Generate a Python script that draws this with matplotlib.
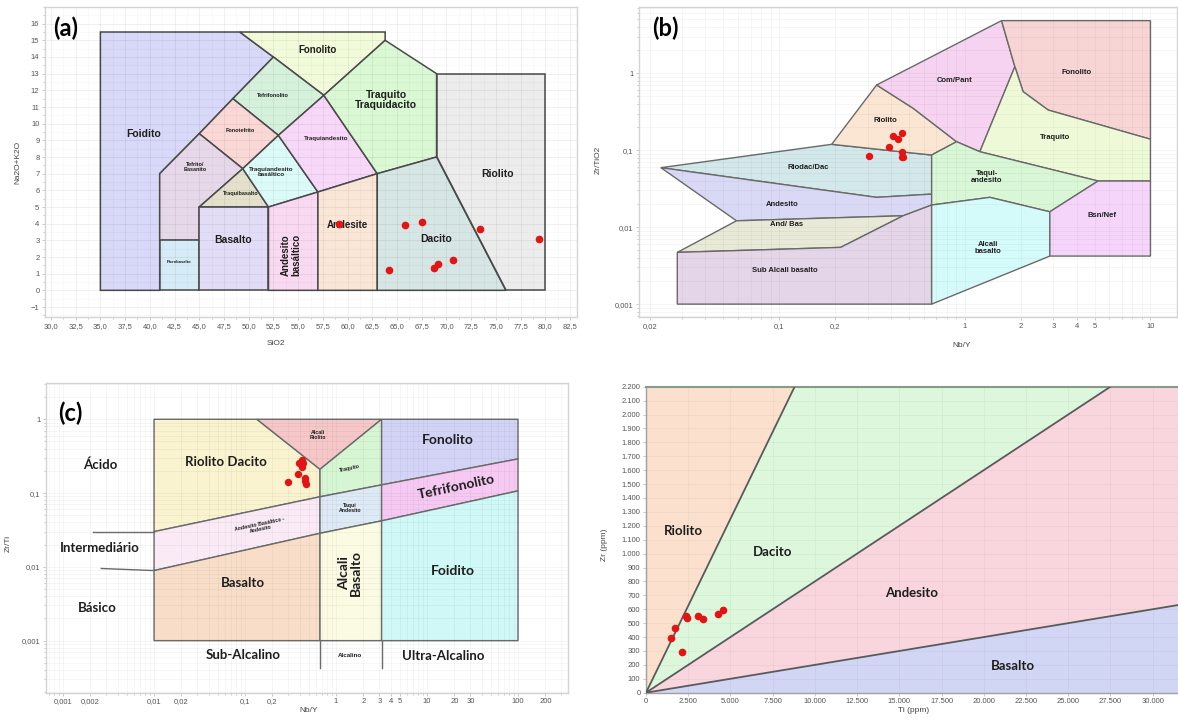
import numpy as np
import matplotlib.pyplot as plt
from matplotlib.patches import Polygon
from matplotlib.ticker import FixedLocator, FuncFormatter, LogLocator, NullFormatter, MultipleLocator

plt.rcParams['font.family'] = ['Liberation Sans', 'DejaVu Sans']

# ---------------- (a) TAS: SiO2 x Na2O+K2O ----------------
tas_regions = {
    'Foidito': [(35, 0), (35, 15.5), (49.1, 15.5), (52.5, 14), (48.4, 11.5), (45, 9.4), (41, 7), (41, 0)],
    'Fonolito': [(49.1, 15.5), (63.8, 15.5), (63.8, 15), (57.6, 11.7), (52.5, 14)],
    'Tefrifonolito': [(52.5, 14), (57.6, 11.7), (53, 9.3), (48.4, 11.5)],
    'Fonotefrito': [(48.4, 11.5), (53, 9.3), (49.4, 7.3), (45, 9.4)],
    'Tefrito': [(41, 3), (41, 7), (45, 9.4), (49.4, 7.3), (45, 5), (45, 3)],
    'Picrobasalto': [(41, 0), (41, 3), (45, 3), (45, 0)],
    'Traquibasalto': [(45, 5), (49.4, 7.3), (52, 5)],
    'TraqBas': [(49.4, 7.3), (53, 9.3), (57, 5.9), (52, 5)],
    'Traquiandesito': [(53, 9.3), (57.6, 11.7), (63, 7), (57, 5.9)],
    'Traquito': [(57.6, 11.7), (63.8, 15), (69, 13), (69, 8), (63, 7)],
    'Basalto': [(45, 0), (45, 5), (52, 5), (52, 0)],
    'AndBas': [(52, 0), (52, 5), (57, 5.9), (57, 0)],
    'Andesite': [(57, 0), (57, 5.9), (63, 7), (63, 0)],
    'Dacito': [(63, 0), (63, 7), (69, 8), (76, 0)],
    'Riolito': [(69, 8), (69, 13), (80, 13), (80, 0), (76, 0)],
}
tas_colors = {
    'Foidito': '#d8d8f8', 'Fonolito': '#f1fad9', 'Tefrifonolito': '#d5f1dc',
    'Fonotefrito': '#f9d8d6', 'Tefrito': '#e6d8e8', 'Picrobasalto': '#d6ebf8',
    'Traquibasalto': '#e3e1cc', 'TraqBas': '#dbfaf8', 'Traquiandesito': '#f8d8f8',
    'Traquito': '#d9f8d3', 'Basalto': '#e3dcf6', 'AndBas': '#f9d9f1',
    'Andesite': '#fae6d6', 'Dacito': '#d6e6e5', 'Riolito': '#ececec',
}
tas_labels = [
    ('Foidito', 39.4, 9.4, 7.5, 0), ('Fonolito', 57.0, 14.4, 7, 0),
    ('Tefrifonolito', 52.4, 11.7, 4, 0), ('Fonotefrito', 49.1, 9.6, 4, 0),
    ('Tefrito/\nBasanito', 44.6, 7.4, 4, 0), ('Picrobasalto', 43.0, 1.7, 3, 0),
    ('Traquibasalto', 49.2, 5.8, 4, 0), ('Traquiandesito\nbasáltico', 52.3, 7.1, 4.5, 0),
    ('Traquiandesito', 57.8, 9.1, 4.5, 0), ('Traquito\nTraquidacito', 63.9, 11.4, 7.5, 0),
    ('Riolito', 75.2, 7.0, 7.5, 0), ('Dacito', 69.0, 3.1, 7.5, 0),
    ('Andesite', 60.0, 3.9, 7, 0), ('Basalto', 48.4, 3.0, 7.5, 0),
    ('Andesito\nbasáltico', 54.3, 2.1, 7, 90),
]
tas_sio2 = [59.1, 65.8, 67.5, 73.4, 79.4, 64.2, 68.7, 69.1, 70.7]
tas_alk = [4.0, 3.9, 4.1, 3.7, 3.06, 1.2, 1.34, 1.6, 1.84]

# ---------------- (b) Zr/TiO2 x Nb/Y (Winchester & Floyd) ----------------
wf_regions = {
    'Riodac': [(0.0230, 0.0593), (0.1915, 0.1193), (0.662, 0.0866), (0.662, 0.0269), (0.3346, 0.0244)],
    'Andesito': [(0.0230, 0.0593), (0.3346, 0.0244), (0.662, 0.0269), (0.662, 0.0194),
                 (0.465, 0.01407), (0.0588, 0.0121)],
    'AndBas': [(0.0588, 0.0121), (0.465, 0.01407), (0.214, 0.00546), (0.0282, 0.0047)],
    'SubAlc': [(0.0282, 0.0047), (0.214, 0.00546), (0.465, 0.01407), (0.662, 0.0194),
               (0.662, 0.001), (0.0282, 0.001)],
    'Riolito': [(0.1915, 0.1193), (0.3346, 0.7045), (0.5267, 0.3506), (0.902, 0.129), (0.662, 0.0866)],
    'ComPant': [(0.3346, 0.7045), (1.576, 4.83), (1.859, 1.218), (1.204, 0.0956),
                (0.902, 0.129), (0.5267, 0.3506)],
    'Fonolito': [(1.576, 4.83), (10, 4.83), (10, 0.139), (2.81, 0.333), (2.06, 0.576), (1.859, 1.218)],
    'Traquito': [(1.859, 1.218), (2.06, 0.576), (2.81, 0.333), (10, 0.139), (10, 0.0398),
                 (5.22, 0.0398), (1.204, 0.0956)],
    'Taqui': [(0.662, 0.0866), (0.902, 0.129), (1.204, 0.0956), (5.22, 0.0398), (2.87, 0.01585),
              (1.363, 0.0244), (0.662, 0.0194)],
    'AlcBas': [(0.662, 0.0194), (1.363, 0.0244), (2.87, 0.01585), (2.87, 0.00421), (0.662, 0.001)],
    'BsnNef': [(2.87, 0.01585), (5.22, 0.0398), (10, 0.0398), (10, 0.00421), (2.87, 0.00421)],
}
wf_colors = {
    'Riodac': '#d3e8ea', 'Andesito': '#d9d9f6', 'AndBas': '#e8e9d6', 'SubAlc': '#e5d5e8',
    'Riolito': '#fbe5d3', 'ComPant': '#f5d3f1', 'Fonolito': '#f8d5d5', 'Traquito': '#eefad7',
    'Taqui': '#d9f6d7', 'AlcBas': '#d5fafa', 'BsnNef': '#f6d5fa',
}
wf_labels = [
    ('Riodac/Dac', 0.1433, 0.0592), ('Andesito', 0.103, 0.0198), ('And/ Bas', 0.1096, 0.01088),
    ('Sub Alcali basalto', 0.107, 0.00271), ('Riolito', 0.371, 0.247), ('Com/Pant', 0.883, 0.794),
    ('Fonolito', 4.0, 1.018), ('Traquito', 3.05, 0.1454), ('Taqui-\nandesito', 1.309, 0.0452),
    ('Bsn/Nef', 5.45, 0.01437), ('Alcali\nbasalto', 1.335, 0.0054),
]
wf_nby = [0.411, 0.434, 0.459, 0.391, 0.456, 0.456, 0.465, 0.304]
wf_zrti = [0.154, 0.140, 0.169, 0.109, 0.0957, 0.0809, 0.0809, 0.0848]

# ---------------- (c) Zr/Ti x Nb/Y (Pearce 1996) ----------------
pe_x = [0.01, 0.667, 3.17, 100]
pe_upper = [0.030, 0.089, 0.129, 0.29]
pe_lower = [0.0089, 0.0285, 0.042, 0.107]
pe_regions = {
    'RioDac': [(0.01, 0.03), (0.01, 1), (0.135, 1), (0.667, 0.21), (0.667, 0.089)],
    'AlcRio': [(0.135, 1), (3.17, 1), (0.667, 0.21)],
    'Traq': [(0.667, 0.21), (3.17, 1), (3.17, 0.129), (0.667, 0.089)],
    'Fono': [(3.17, 1), (100, 1), (100, 0.29), (3.17, 0.129)],
    'AndBas': [(0.01, 0.03), (0.667, 0.089), (0.667, 0.0285), (0.01, 0.0089)],
    'Taqui': [(0.667, 0.089), (3.17, 0.129), (3.17, 0.042), (0.667, 0.0285)],
    'Tefri': [(3.17, 0.129), (100, 0.29), (100, 0.107), (3.17, 0.042)],
    'Basalto': [(0.01, 0.0089), (0.667, 0.0285), (0.667, 0.001), (0.01, 0.001)],
    'AlcBas': [(0.667, 0.0285), (3.17, 0.042), (3.17, 0.001), (0.667, 0.001)],
    'Foid': [(3.17, 0.042), (100, 0.107), (100, 0.001), (3.17, 0.001)],
}
pe_colors = {
    'RioDac': '#faf3d0', 'AlcRio': '#f5c7c8', 'Traq': '#d6f5d2', 'Fono': '#d3d3f6',
    'AndBas': '#f9eaf5', 'Taqui': '#dee9f6', 'Tefri': '#f5c9f2', 'Basalto': '#f8dec9',
    'AlcBas': '#fbfbe3', 'Foid': '#cff8f6',
}
pe_nby = [0.420, 0.438, 0.420, 0.386, 0.457, 0.457, 0.469, 0.299, 0.395]
pe_zrti = [0.281, 0.253, 0.228, 0.180, 0.162, 0.146, 0.133, 0.143, 0.253]

# ---------------- (d) Zr x Ti ----------------
zt_slopes = [0.25, 0.08, 0.02]   # Riolito/Dacito, Dacito/Andesito, Andesito/Basalto
zt_ti = [1478, 1715, 2109, 2346, 2445, 3056, 3390, 4237, 4574]
zt_zr = [392, 464, 295, 553, 536, 553, 531, 567, 591]

W, H = 1178, 724
fig = plt.figure(figsize=(W / 100, H / 100), dpi=100)


def add_ax(l, t, r, b):
    return fig.add_axes([l / W, 1 - b / H, (r - l) / W, (b - t) / H])


def comma(v, pos=None):
    return ('%g' % v).replace('.', ',')


def frame(ax, color='#d4d4d4'):
    for s in ax.spines.values():
        s.set_color(color)
        s.set_linewidth(1)
    ax.tick_params(which='both', length=2, width=0.6, color='#c0c0c0', labelsize=5.5,
                   labelcolor='#555555', pad=2)
    ax.tick_params(which='minor', length=1.2)


RED = '#e31414'
TXT = '#1e1e1e'

# ---------- (a) ----------
ax = add_ax(45, 7, 577, 317)
for k, verts in tas_regions.items():
    ax.add_patch(Polygon(verts, closed=True, facecolor=tas_colors[k], edgecolor='#4a4a4a', lw=1.1))
for t, x, y, fs, rot in tas_labels:
    ax.text(x, y, t, ha='center', va='center', fontsize=fs, fontweight='bold', color=TXT,
            rotation=rot, linespacing=1.0)
ax.plot(tas_sio2, tas_alk, 'o', color=RED, ms=4.5, zorder=5)
ax.set_xlim(29.4, 83.2)
ax.set_ylim(-1.6, 17.0)
ax.set_xticks(np.arange(30, 83, 2.5))
ax.xaxis.set_major_formatter(FuncFormatter(lambda v, p: ('%.1f' % v).replace('.', ',')))
ax.set_yticks(np.arange(-1, 17, 1))
ax.xaxis.set_minor_locator(MultipleLocator(1.25))
ax.yaxis.set_minor_locator(MultipleLocator(0.5))
ax.grid(True, which='major', color='#000000', alpha=0.07, lw=0.6)
ax.grid(True, which='minor', color='#000000', alpha=0.035, lw=0.5)
frame(ax)
ax.set_xlabel('SiO2', fontsize=6, color='#444444')
ax.set_ylabel('Na2O+K2O', fontsize=6, color='#444444')
ax.xaxis.set_label_coords(0.434, -0.074)
ax.yaxis.set_label_coords(-0.044, 0.497)
ax.text(31.5, 15.7, '(a)', fontsize=17, fontweight='bold', family='Lato', ha='center', va='center')

# ---------- (b) ----------
ax = add_ax(639.3, 7.3, 1177, 317)
ax.set_xscale('log')
ax.set_yscale('log')
for k, verts in wf_regions.items():
    ax.add_patch(Polygon(verts, closed=True, facecolor=wf_colors[k], edgecolor='#6a6a6a', lw=1.0))
for t, x, y in wf_labels:
    ax.text(x, y, t, ha='center', va='center', fontsize=5.5, fontweight='bold', color=TXT,
            linespacing=1.0)
ax.plot(wf_nby, wf_zrti, 'o', color=RED, ms=4.3, zorder=5)
ax.set_xlim(0.0176, 13.9)
ax.set_ylim(0.00068, 7.2)
ax.xaxis.set_major_locator(FixedLocator([0.02, 0.1, 0.2, 1, 2, 3, 4, 5, 10]))
ax.xaxis.set_minor_locator(LogLocator(base=10, subs=np.arange(1, 10)))
ax.xaxis.set_major_formatter(FuncFormatter(comma))
ax.xaxis.set_minor_formatter(NullFormatter())
ax.yaxis.set_major_locator(FixedLocator([0.001, 0.01, 0.1, 1]))
ax.yaxis.set_minor_locator(LogLocator(base=10, subs=np.arange(1, 10)))
ax.yaxis.set_major_formatter(FuncFormatter(comma))
ax.yaxis.set_minor_formatter(NullFormatter())
ax.grid(True, which='both', color='#000000', alpha=0.05, lw=0.5)
frame(ax)
ax.set_xlabel('Nb/Y', fontsize=6, color='#444444')
ax.set_ylabel('Zr/TiO2', fontsize=6, color='#444444')
ax.xaxis.set_label_coords(0.600, -0.081)
ax.yaxis.set_label_coords(-0.07, 0.507)
ax.text(0.02424, 3.88, '(b)', fontsize=17, fontweight='bold', family='Lato', ha='center', va='center')

# ---------- (c) ----------
ax = add_ax(46, 382.7, 568.3, 692.7)
ax.set_xscale('log')
ax.set_yscale('log')
for k, verts in pe_regions.items():
    ax.add_patch(Polygon(verts, closed=True, facecolor=pe_colors[k], edgecolor='#6a6a6a', lw=1.0))
ax.plot([0.667, 0.667], [0.001, 0.00042], color='#6a6a6a', lw=1.0)
ax.plot([3.17, 3.17], [0.001, 0.00042], color='#6a6a6a', lw=1.0)
ax.plot([0.00213, 0.01], [pe_upper[0], pe_upper[0]], color='#6a6a6a', lw=1.0)
ax.plot([0.00263, 0.01], [0.0095, pe_lower[0]], color='#6a6a6a', lw=1.0)
big = dict(ha='center', va='center', fontweight='bold', color=TXT, family='Lato')
small = dict(ha='center', va='center', fontweight='bold', color=TXT, fontsize=3.8, linespacing=1.1)
ax.text(0.002566, 0.240, 'Ácido', fontsize=9.5, **big)
ax.text(0.002522, 0.01786, 'Intermediário', fontsize=9.5, **big)
ax.text(0.002399, 0.002748, 'Básico', fontsize=9.5, **big)
ax.text(0.0615, 0.2664, 'Riolito Dacito', fontsize=9.5, **big)
ax.text(0.0946, 0.006, 'Basalto', fontsize=9.5, **big)
ax.text(0.0960, 0.00064, 'Sub-Alcalino', fontsize=9.5, **big)
ax.text(17.09, 0.524, 'Fonolito', fontsize=10, **big)
ax.text(21.1, 0.122, 'Tefrifonolito', fontsize=10, rotation=12, **big)
ax.text(19.4, 0.00888, 'Foidito', fontsize=10, **big)
ax.text(15.06, 0.000626, 'Ultra-Alcalino', fontsize=9.5, **big)
ax.text(1.4245, 0.00819, 'Alcali\nBasalto', fontsize=10, rotation=90, linespacing=1.0, **big)
ax.text(0.1465, 0.0347, 'Andesito Basáltico -\nAndesito', rotation=12, **small)
ax.text(0.639, 0.6127, 'Alcali\nRiolito', **small)
ax.text(1.4245, 0.2168, 'Traquito', rotation=12, **small)
ax.text(1.4245, 0.0622, 'Taqui\nAndesito', **small)
ax.text(1.4245, 0.000626, 'Alcalino', fontsize=4.5, ha='center', va='center',
        fontweight='bold', color=TXT)
ax.plot(pe_nby, pe_zrti, 'o', color=RED, ms=4.3, zorder=5)
ax.set_xlim(0.00065, 357)
ax.set_ylim(0.000197, 3.13)
ax.xaxis.set_major_locator(FixedLocator([0.001, 0.002, 0.01, 0.02, 0.1, 0.2, 1, 2, 3, 4, 5,
                                         10, 20, 30, 100, 200]))
ax.xaxis.set_minor_locator(LogLocator(base=10, subs=np.arange(1, 10)))
ax.xaxis.set_major_formatter(FuncFormatter(comma))
ax.xaxis.set_minor_formatter(NullFormatter())
ax.yaxis.set_major_locator(FixedLocator([0.001, 0.01, 0.1, 1]))
ax.yaxis.set_minor_locator(LogLocator(base=10, subs=np.arange(1, 10)))
ax.yaxis.set_major_formatter(FuncFormatter(comma))
ax.yaxis.set_minor_formatter(NullFormatter())
ax.grid(True, which='both', color='#000000', alpha=0.05, lw=0.5)
frame(ax)
ax.set_xlabel('Nb/Y', fontsize=6, color='#444444')
ax.set_ylabel('Zr/Ti', fontsize=6, color='#444444')
ax.xaxis.set_label_coords(0.502, -0.045)
ax.yaxis.set_label_coords(-0.065, 0.483)
ax.text(0.0012, 1.206, '(c)', fontsize=17, fontweight='bold', family='Lato', ha='center', va='center')

# ---------- (d) ----------
ax = add_ax(646, 386.7, 1178, 692.7)
xmax, ymax = 31500, 2200
s1, s2, s3 = zt_slopes
ax.add_patch(Polygon([(0, 0), (ymax / s1, ymax), (0, ymax)], facecolor='#fbe1cd', edgecolor='none'))
ax.add_patch(Polygon([(0, 0), (ymax / s2, ymax), (ymax / s1, ymax)], facecolor='#dcf7dc', edgecolor='none'))
ax.add_patch(Polygon([(0, 0), (xmax, s3 * xmax), (xmax, ymax), (ymax / s2, ymax)],
                     facecolor='#f9d6dd', edgecolor='none'))
ax.add_patch(Polygon([(0, 0), (xmax, 0), (xmax, s3 * xmax)], facecolor='#d2d6f5', edgecolor='none'))
for s in zt_slopes:
    xe = min(xmax, ymax / s)
    ax.plot([0, xe], [0, s * xe], color='#5a5a5a', lw=1.3, zorder=3)
ax.text(2200, 1160, 'Riolito', fontsize=9.5, **big)
ax.text(7500, 1010, 'Dacito', fontsize=9.5, **big)
ax.text(15700, 720, 'Andesito', fontsize=9.5, **big)
ax.text(21700, 190, 'Basalto', fontsize=9.5, **big)
ax.plot(zt_ti, zt_zr, 'o', color=RED, ms=4.5, zorder=5)
ax.set_xlim(0, xmax)
ax.set_ylim(0, ymax)
ax.set_xticks(np.arange(0, 30001, 2500))
ax.set_yticks(np.arange(0, 2201, 100))
ax.xaxis.set_major_formatter(FuncFormatter(lambda v, p: f'{int(v):,}'.replace(',', '.')))
ax.yaxis.set_major_formatter(FuncFormatter(lambda v, p: f'{int(v):,}'.replace(',', '.')))
ax.grid(True, color='#000000', alpha=0.05, lw=0.5)
frame(ax, '#a0a0a0')
ax.spines['right'].set_visible(False)
ax.spines['top'].set_color('#8a9a8a')
ax.spines['top'].set_linewidth(1.5)
ax.set_xlabel('Ti (ppm)', fontsize=6, color='#444444')
ax.set_ylabel('Zr (ppm)', fontsize=6, color='#444444')
ax.xaxis.set_label_coords(0.502, -0.046)
ax.yaxis.set_label_coords(-0.071, 0.483)

fig.savefig('out.png', dpi=100)
